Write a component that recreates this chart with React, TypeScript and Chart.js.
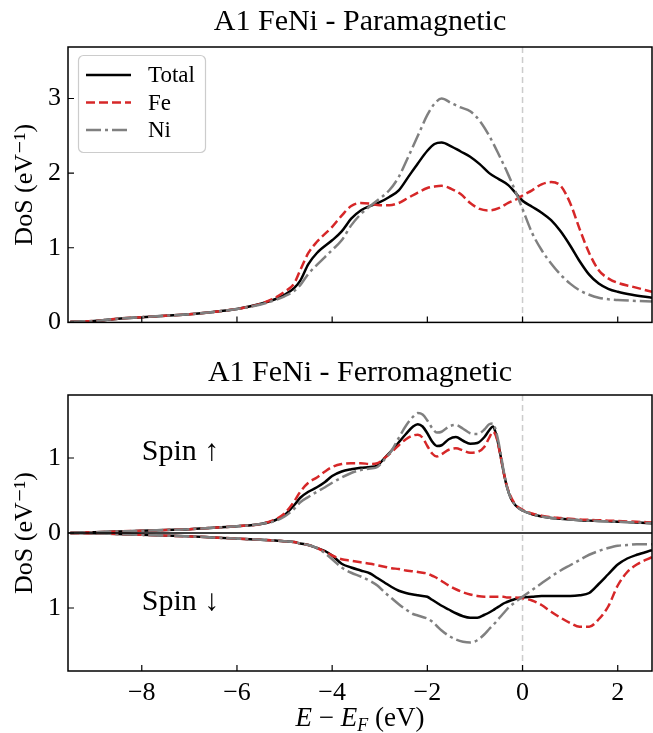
import { useEffect, useRef } from 'react';
import { Chart, registerables } from 'chart.js';

Chart.register(...registerables);

const SERIF = "'Liberation Serif', 'DejaVu Serif', serif";

// ---------- axes ----------
const X_MIN = -9.55;
const X_MAX = 2.72;
const xTicks = [-8, -6, -4, -2, 0, 2];
const topYTicks = [0, 1, 2, 3];
const TOP_Y_MAX = 3.69;
const botYTicks = [-1, 0, 1];
const BOT_Y_LIM = 1.84;

// ---------- titles / labels ----------
const topTitle = 'A1 FeNi - Paramagnetic';
const botTitle = 'A1 FeNi - Ferromagnetic';
const yLabel = 'DoS (eV\u207B\u00B9)';
const seriesNames = ['Total', 'Fe', 'Ni'];
const spinUpText = 'Spin \u2191';
const spinDownText = 'Spin \u2193';

// ---------- paramagnetic DoS ----------
const topE = [-9.5, -9, -8.5, -8, -7.5, -7, -6.5, -6, -5.5, -5.2, -5, -4.8, -4.67, -4.5, -4.32, -4, -3.8, -3.6, -3.4, -3.2, -3, -2.8, -2.6, -2.4, -2.2, -2, -1.85, -1.7, -1.5, -1.3, -1.1, -0.9, -0.7, -0.5, -0.3, -0.1, 0, 0.2, 0.4, 0.6, 0.8, 1.0, 1.2, 1.4, 1.6, 1.8, 2.0, 2.3, 2.72];
const topTotal = [0.01, 0.02, 0.05, 0.07, 0.09, 0.11, 0.14, 0.18, 0.25, 0.31, 0.37, 0.46, 0.56, 0.78, 0.93, 1.1, 1.22, 1.39, 1.5, 1.56, 1.61, 1.68, 1.77, 1.95, 2.13, 2.3, 2.39, 2.41, 2.36, 2.29, 2.22, 2.12, 2.0, 1.92, 1.84, 1.7, 1.63, 1.55, 1.47, 1.37, 1.22, 1.03, 0.82, 0.64, 0.52, 0.45, 0.41, 0.37, 0.33];
const topFe = [0.01, 0.02, 0.05, 0.07, 0.09, 0.11, 0.14, 0.18, 0.25, 0.33, 0.41, 0.52, 0.7, 0.93, 1.08, 1.28, 1.43, 1.56, 1.6, 1.59, 1.57, 1.57, 1.6, 1.67, 1.74, 1.8, 1.82, 1.83, 1.79, 1.72, 1.6, 1.52, 1.5, 1.53, 1.6, 1.66, 1.7, 1.77, 1.85, 1.88, 1.83, 1.6, 1.25, 0.93, 0.7, 0.59, 0.53, 0.48, 0.41];
const topNi = [0.01, 0.02, 0.05, 0.07, 0.09, 0.11, 0.14, 0.18, 0.24, 0.3, 0.35, 0.42, 0.5, 0.65, 0.77, 0.97, 1.1, 1.3, 1.45, 1.56, 1.66, 1.77, 1.95, 2.22, 2.5, 2.78, 2.93, 3.0, 2.94, 2.88, 2.83, 2.7, 2.5, 2.25, 1.98, 1.68, 1.52, 1.2, 0.97, 0.79, 0.64, 0.52, 0.43, 0.37, 0.33, 0.31, 0.3, 0.29, 0.28];

// ---------- ferromagnetic DoS ----------
const botE = [-9.5, -9, -8.5, -8, -7.5, -7, -6.5, -6, -5.5, -5.2, -5, -4.8, -4.67, -4.5, -4.32, -4.15, -4, -3.8, -3.6, -3.4, -3.2, -3.05, -2.9, -2.75, -2.6, -2.45, -2.3, -2.2, -2.1, -2, -1.9, -1.8, -1.7, -1.55, -1.4, -1.25, -1.1, -0.95, -0.8, -0.7, -0.62, -0.55, -0.47, -0.4, -0.33, -0.25, -0.15, 0, 0.2, 0.4, 0.6, 0.8, 1.0, 1.2, 1.4, 1.6, 1.8, 2.0, 2.2, 2.4, 2.72];
const upTotal = [0, 0.01, 0.02, 0.03, 0.04, 0.05, 0.07, 0.09, 0.12, 0.17, 0.24, 0.37, 0.47, 0.55, 0.61, 0.68, 0.76, 0.82, 0.85, 0.87, 0.88, 0.9, 1.0, 1.1, 1.21, 1.32, 1.42, 1.45, 1.42, 1.33, 1.22, 1.16, 1.17, 1.25, 1.28, 1.23, 1.19, 1.2, 1.28, 1.37, 1.42, 1.3, 1.06, 0.82, 0.62, 0.47, 0.37, 0.3, 0.25, 0.22, 0.2, 0.19, 0.18, 0.17, 0.165, 0.16, 0.155, 0.15, 0.145, 0.14, 0.13];
const upFe = [0, 0.01, 0.02, 0.03, 0.04, 0.05, 0.07, 0.09, 0.12, 0.18, 0.26, 0.42, 0.55, 0.67, 0.74, 0.82, 0.88, 0.92, 0.93, 0.93, 0.92, 0.93, 1.0, 1.08, 1.17, 1.25, 1.3, 1.31, 1.27, 1.16, 1.06, 1.02, 1.05, 1.11, 1.13, 1.1, 1.07, 1.08, 1.15, 1.27, 1.35, 1.28, 1.05, 0.82, 0.63, 0.49, 0.38, 0.31, 0.26, 0.23, 0.21, 0.2, 0.19, 0.18, 0.175, 0.17, 0.165, 0.16, 0.155, 0.15, 0.14];
const upNi = [0, 0.01, 0.02, 0.03, 0.04, 0.05, 0.07, 0.09, 0.12, 0.16, 0.22, 0.32, 0.41, 0.48, 0.55, 0.61, 0.67, 0.74, 0.8, 0.84, 0.86, 0.88, 0.98, 1.1, 1.27, 1.43, 1.55, 1.6, 1.58, 1.5, 1.4, 1.34, 1.35, 1.42, 1.44, 1.39, 1.33, 1.32, 1.38, 1.45, 1.46, 1.34, 1.1, 0.84, 0.62, 0.47, 0.37, 0.3, 0.25, 0.22, 0.2, 0.19, 0.18, 0.17, 0.165, 0.16, 0.155, 0.15, 0.145, 0.14, 0.13];
const dnTotal = [0, -0.005, -0.015, -0.025, -0.035, -0.045, -0.06, -0.075, -0.09, -0.1, -0.11, -0.12, -0.14, -0.16, -0.2, -0.24, -0.3, -0.41, -0.46, -0.5, -0.54, -0.6, -0.66, -0.72, -0.77, -0.8, -0.82, -0.83, -0.84, -0.85, -0.89, -0.93, -0.97, -1.02, -1.07, -1.11, -1.13, -1.13, -1.09, -1.06, -1.03, -1.0, -0.97, -0.94, -0.92, -0.9, -0.88, -0.86, -0.85, -0.84, -0.84, -0.84, -0.84, -0.83, -0.8, -0.68, -0.55, -0.42, -0.34, -0.29, -0.23];
const dnFe = [0, -0.005, -0.015, -0.025, -0.035, -0.045, -0.06, -0.075, -0.09, -0.1, -0.11, -0.12, -0.14, -0.16, -0.2, -0.25, -0.3, -0.35, -0.37, -0.39, -0.41, -0.43, -0.45, -0.47, -0.48, -0.5, -0.51, -0.52, -0.53, -0.54, -0.57, -0.6, -0.64, -0.7, -0.75, -0.79, -0.82, -0.84, -0.85, -0.85, -0.85, -0.85, -0.85, -0.85, -0.86, -0.86, -0.86, -0.87, -0.9, -0.96, -1.05, -1.13, -1.2, -1.25, -1.25, -1.15, -0.98, -0.7, -0.52, -0.42, -0.32];
const dnNi = [0, -0.005, -0.015, -0.025, -0.035, -0.045, -0.06, -0.075, -0.09, -0.1, -0.11, -0.12, -0.14, -0.16, -0.2, -0.27, -0.35, -0.46, -0.53, -0.58, -0.64, -0.7, -0.79, -0.87, -0.95, -1.02, -1.08, -1.1, -1.12, -1.14, -1.18, -1.24, -1.3, -1.37, -1.42, -1.45, -1.46, -1.43, -1.35, -1.28, -1.23, -1.18, -1.12, -1.07, -1.02, -0.97, -0.92, -0.85, -0.76, -0.67, -0.58, -0.5, -0.43, -0.36, -0.29, -0.24, -0.2, -0.17, -0.16, -0.15, -0.15];

// ---------- styles ----------
const COLORS = ['#000000', '#d62728', '#808080'];
const DASHES = [[], [9, 4], [15, 4, 3, 4]];
const LINE_W = 2.5;

const pts = (xs: number[], ys: number[]) => xs.map((x, i) => ({ x, y: ys[i] }));

function ds(idx: number, xs: number[], ys: number[], showLabel = true) {
  return {
    label: showLabel ? seriesNames[idx] : '',
    data: pts(xs, ys),
    borderColor: COLORS[idx],
    backgroundColor: COLORS[idx],
    borderWidth: LINE_W,
    borderDash: DASHES[idx],
    pointRadius: 0,
    fill: false,
    cubicInterpolationMode: 'monotone' as const,
    order: 3 - idx,
  };
}

const decor = {
  id: 'decor',
  beforeDatasetsDraw(chart: any) {
    const { ctx, chartArea: a, scales } = chart;
    const xs = scales.x;
    ctx.save();
    const xf = xs.getPixelForValue(0);
    ctx.strokeStyle = '#cccccc';
    ctx.lineWidth = 1.5;
    ctx.setLineDash([6, 4]);
    ctx.beginPath();
    ctx.moveTo(xf, a.top);
    ctx.lineTo(xf, a.bottom);
    ctx.stroke();
    ctx.restore();
  },
  afterDatasetsDraw(chart: any, _a: any, o: any) {
    const { ctx, chartArea: a, scales } = chart;
    const xs = scales.x;
    const ys = scales.y;
    ctx.save();
    ctx.setLineDash([]);
    if (o.zeroLine) {
      const y0 = ys.getPixelForValue(0);
      ctx.strokeStyle = '#000';
      ctx.lineWidth = 1.6;
      ctx.beginPath();
      ctx.moveTo(a.left, y0);
      ctx.lineTo(a.right, y0);
      ctx.stroke();
    }
    // frame
    ctx.strokeStyle = '#000';
    ctx.lineWidth = 1.5;
    ctx.strokeRect(a.left, a.top, a.right - a.left, a.bottom - a.top);
    // inward ticks
    ctx.lineWidth = 1.2;
    ctx.beginPath();
    xs.ticks.forEach((t: any) => {
      const px = xs.getPixelForValue(t.value);
      ctx.moveTo(px, a.bottom);
      ctx.lineTo(px, a.bottom - 6);
    });
    ys.ticks.forEach((t: any) => {
      const py = ys.getPixelForValue(t.value);
      ctx.moveTo(a.left, py);
      ctx.lineTo(a.left + 6, py);
    });
    ctx.stroke();
    // annotations
    (o.notes || []).forEach((n: any) => {
      ctx.fillStyle = '#000';
      ctx.font = `30px ${SERIF}`;
      ctx.textAlign = 'left';
      ctx.textBaseline = 'middle';
      ctx.fillText(n.text, xs.getPixelForValue(n.x), ys.getPixelForValue(n.y));
    });
    // legend
    if (o.legend) {
      const bx = a.left + 10;
      const by = a.top + 8;
      const bw = 127;
      const bh = 97;
      ctx.fillStyle = 'rgba(255,255,255,0.85)';
      ctx.strokeStyle = '#cccccc';
      ctx.lineWidth = 1.2;
      ctx.beginPath();
      (ctx as any).roundRect(bx + 0.5, by + 0.5, bw, bh, 5);
      ctx.fill();
      ctx.stroke();
      chart.data.datasets.forEach((d: any, i: number) => {
        const ry = by + 20 + i * 27.5;
        ctx.strokeStyle = d.borderColor;
        ctx.lineWidth = d.borderWidth;
        ctx.setLineDash(d.borderDash || []);
        ctx.beginPath();
        ctx.moveTo(bx + 8, ry);
        ctx.lineTo(bx + 53, ry);
        ctx.stroke();
        ctx.setLineDash([]);
        ctx.fillStyle = '#000';
        ctx.font = `23px ${SERIF}`;
        ctx.textAlign = 'left';
        ctx.textBaseline = 'middle';
        ctx.fillText(d.label, bx + 70, ry + 1);
      });
    }
    ctx.restore();
  },
};

const tickFont = { family: SERIF, size: 26 };

function xScale(showLabels: boolean) {
  return {
    type: 'linear' as const,
    min: X_MIN,
    max: X_MAX,
    afterBuildTicks: (s: any) => {
      s.ticks = xTicks.map((v) => ({ value: v }));
    },
    ticks: {
      display: showLabels,
      font: tickFont,
      color: '#000',
      padding: 7,
      callback: (v: any) => (v < 0 ? '\u2212' + Math.abs(v) : String(v)),
    },
    grid: { display: false, drawTicks: false },
    border: { display: false },
    afterFit: (s: any) => {
      s.height = showLabels ? 45 : 0;
    },
  };
}

function yScale(min: number, max: number, ticks: number[], absLabels: boolean) {
  return {
    type: 'linear' as const,
    min,
    max,
    afterBuildTicks: (s: any) => {
      s.ticks = ticks.map((v) => ({ value: v }));
    },
    ticks: {
      font: tickFont,
      color: '#000',
      padding: 7,
      callback: (v: any) => String(absLabels ? Math.abs(v) : v),
    },
    grid: { display: false, drawTicks: false },
    border: { display: false },
    title: {
      display: true,
      text: yLabel,
      font: { family: SERIF, size: 26 },
      color: '#000',
      padding: { top: 10, bottom: 0 },
    },
    afterFit: (s: any) => {
      s.width = 68;
    },
  };
}

function titleOpts(text: string, top: number, bottom: number) {
  return {
    display: true,
    fullSize: false,
    text,
    color: '#000',
    font: { family: SERIF, size: 30, weight: 'normal' as const, lineHeight: 1.2 },
    padding: { top, bottom },
  };
}

function topConfig(): any {
  return {
    type: 'line',
    data: {
      datasets: [ds(0, topE, topTotal), ds(1, topE, topFe), ds(2, topE, topNi)],
    },
    options: {
      responsive: false,
      animation: false,
      devicePixelRatio: 1,
      layout: { padding: { left: 0, right: 1, top: 0, bottom: 19 } },
      scales: {
        x: xScale(false),
        y: yScale(0, TOP_Y_MAX, topYTicks, false),
      },
      plugins: {
        legend: { display: false },
        tooltip: { enabled: false },
        title: titleOpts(topTitle, 4, 7),
        decor: { legend: true, zeroLine: false, notes: [] },
      },
    },
    plugins: [decor],
  };
}

function botConfig(): any {
  return {
    type: 'line',
    data: {
      datasets: [
        ds(0, botE, upTotal),
        ds(1, botE, upFe),
        ds(2, botE, upNi),
        ds(0, botE, dnTotal, false),
        ds(1, botE, dnFe, false),
        ds(2, botE, dnNi, false),
      ],
    },
    options: {
      responsive: false,
      animation: false,
      devicePixelRatio: 1,
      layout: { padding: { left: 0, right: 1, top: 0, bottom: 17 } },
      scales: {
        x: xScale(true),
        y: yScale(-BOT_Y_LIM, BOT_Y_LIM, botYTicks, true),
      },
      plugins: {
        legend: { display: false },
        tooltip: { enabled: false },
        title: titleOpts(botTitle, 10, 4),
        decor: {
          legend: false,
          zeroLine: true,
          notes: [
            { text: spinUpText, x: -8.0, y: 1.08 },
            { text: spinDownText, x: -8.0, y: -0.92 },
          ],
        },
      },
    },
    plugins: [decor],
  };
}

export default function App() {
  const topRef = useRef<HTMLCanvasElement>(null);
  const botRef = useRef<HTMLCanvasElement>(null);
  useEffect(() => {
    const c1 = new Chart(topRef.current as HTMLCanvasElement, topConfig());
    const c2 = new Chart(botRef.current as HTMLCanvasElement, botConfig());
    return () => {
      c1.destroy();
      c2.destroy();
    };
  }, []);
  return (
    <div style={{ position: 'absolute', left: 0, top: 0, width: 653, height: 733, background: '#fff' }}>
      <canvas
        ref={topRef}
        width={653}
        height={345}
        style={{ position: 'absolute', left: 0, top: 0, width: 653, height: 345, display: 'block' }}
      />
      <canvas
        ref={botRef}
        width={653}
        height={388}
        style={{ position: 'absolute', left: 0, top: 345, width: 653, height: 388, display: 'block' }}
      />
      <div
        style={{
          position: 'absolute',
          left: 68,
          width: 584,
          top: 701,
          textAlign: 'center',
          fontFamily: SERIF,
          fontSize: 27,
          lineHeight: '32px',
          color: '#000',
          whiteSpace: 'nowrap',
        }}
      >
        <i>E</i> {'\u2212'} <i>E</i>
        <sub style={{ fontSize: 18, verticalAlign: '-5px', lineHeight: 0 }}>
          <i>F</i>
        </sub>{' '}
        (eV)
      </div>
    </div>
  );
}
